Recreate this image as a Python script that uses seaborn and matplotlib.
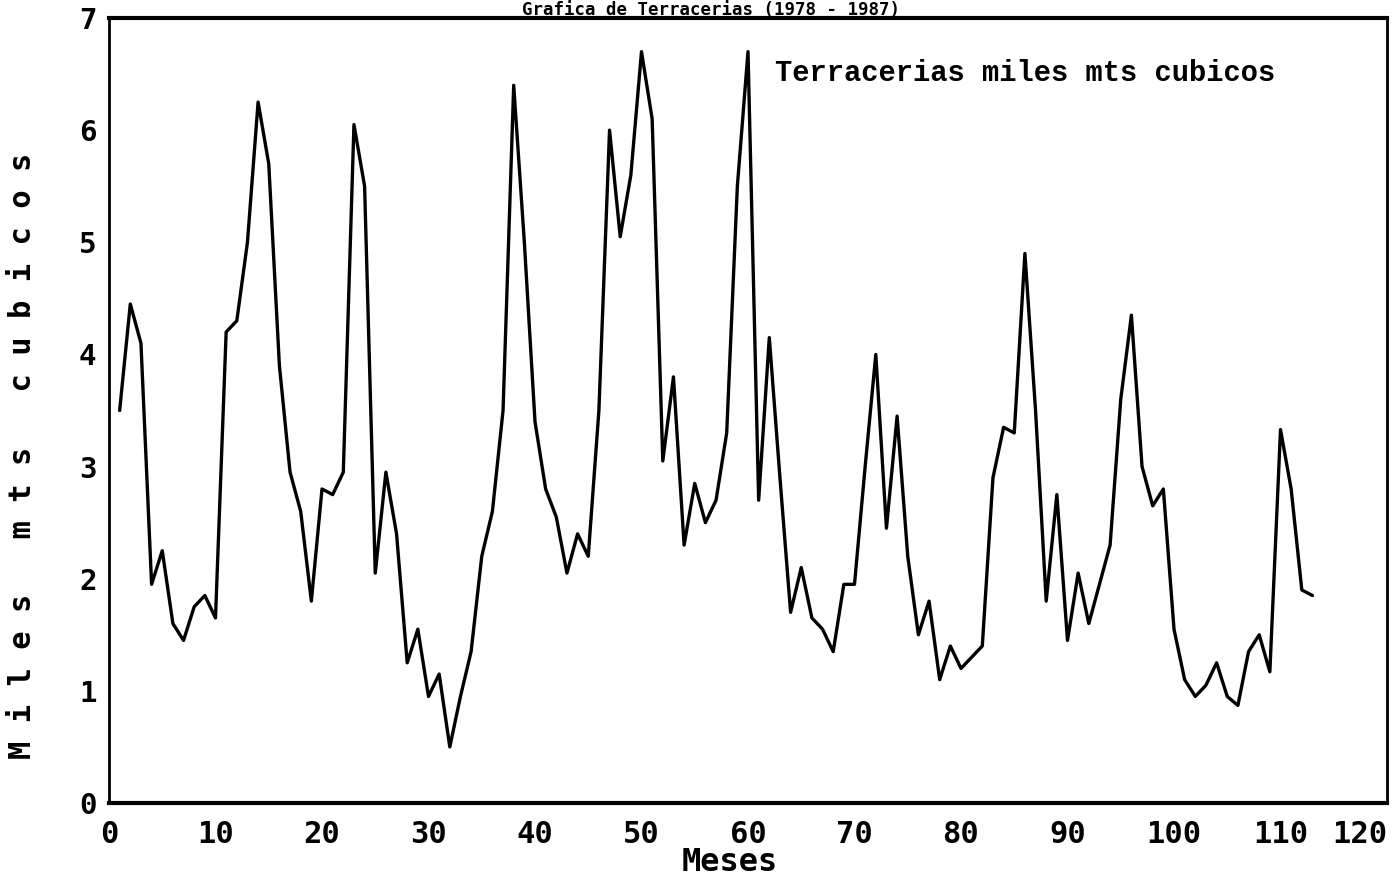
import matplotlib
matplotlib.use("Agg")
import matplotlib.pyplot as plt
import seaborn as sns
import pandas as pd

months = list(range(1, 114))
values = [
    3.5, 4.45, 4.1, 1.95, 2.25, 1.6, 1.45, 1.75, 1.85, 1.65,      # 1-10
    4.2, 4.3, 5.0, 6.25, 5.7, 3.9, 2.95, 2.6, 1.8, 2.8,           # 11-20
    2.75, 2.95, 6.05, 5.5, 2.05, 2.95, 2.4, 1.25, 1.55, 0.95,     # 21-30
    1.15, 0.5, 0.95, 1.35, 2.2, 2.6, 3.5, 6.4, 5.0, 3.4,          # 31-40
    2.8, 2.55, 2.05, 2.4, 2.2, 3.5, 6.0, 5.05, 5.6, 6.7,          # 41-50
    6.1, 3.05, 3.8, 2.3, 2.85, 2.5, 2.7, 3.3, 5.5, 6.7,           # 51-60
    2.7, 4.15, 2.9, 1.7, 2.1, 1.65, 1.55, 1.35, 1.95, 1.95,       # 61-70
    3.0, 4.0, 2.45, 3.45, 2.2, 1.5, 1.8, 1.1, 1.4, 1.2,           # 71-80
    1.3, 1.4, 2.9, 3.35, 3.3, 4.9, 3.5, 1.8, 2.75, 1.45,          # 81-90
    2.05, 1.6, 1.95, 2.3, 3.6, 4.35, 3.0, 2.65, 2.8, 1.55,        # 91-100
    1.1, 0.95, 1.05, 1.25, 0.95, 0.87, 1.35, 1.5, 1.17, 3.33,     # 101-110
    2.8, 1.9, 1.85,                                               # 111-113
]
x_ticks = list(range(0, 121, 10))
y_ticks = list(range(0, 8))

title_text = "Grafica de Terracerias (1978 - 1987)"
legend_text = "Terracerias miles mts cubicos"
xlabel_text = "Meses"
ylabel_text = "M i l e s   m t s   c u b i c o s"

df = pd.DataFrame({"mes": months, "valor": values})

sns.set_theme(style="white")
plt.rcParams["font.family"] = ["DejaVu Sans Mono", "DejaVu Sans"]

fig = plt.figure(figsize=(13.95, 8.93), dpi=100)
ax = fig.add_axes([109 / 1395, 90 / 893, (1387 - 109) / 1395, (803 - 18) / 893])

sns.lineplot(data=df, x="mes", y="valor", ax=ax, color="black", linewidth=2.4)

ax.set_xlim(0, 120)
ax.set_ylim(0, 7)
ax.set_xticks(x_ticks)
ax.set_yticks(y_ticks)
ax.set_xticklabels([str(t) for t in x_ticks], fontsize=22, fontweight="bold")
ax.set_yticklabels([str(t) for t in y_ticks], fontsize=21, fontweight="bold")
ax.tick_params(axis="x", direction="out", length=10, width=2, pad=2, colors="black")
ax.tick_params(axis="y", direction="out", length=6, width=2, pad=3, colors="black")
xlabels = ax.get_xticklabels()
xlabels[-1].set_horizontalalignment("right")
xlabels[0].set_horizontalalignment("center")
ax.set_xlabel("")
ax.set_ylabel("")

for side, sp in ax.spines.items():
    sp.set_visible(True)
    sp.set_color("black")
    sp.set_linewidth(3 if side in ("bottom", "top") else 2)

ax.text(0.521, 0.93, legend_text, transform=ax.transAxes, fontsize=20.7,
        fontweight="bold", family=["Liberation Mono", "DejaVu Sans Mono"],
        ha="left", va="center", color="black")

fig.text(0.523, 0.034, xlabel_text, fontsize=23, fontweight="bold",
         ha="center", va="center", color="black")
fig.text(0.016, 0.49, ylabel_text, fontsize=22, fontweight="bold",
         rotation=90, ha="center", va="center", color="black")
fig.text(0.51, 0.999, title_text, fontsize=12.5, fontweight="bold",
         ha="center", va="top", color="black")

fig.savefig("out.png", dpi=100, facecolor="white")
